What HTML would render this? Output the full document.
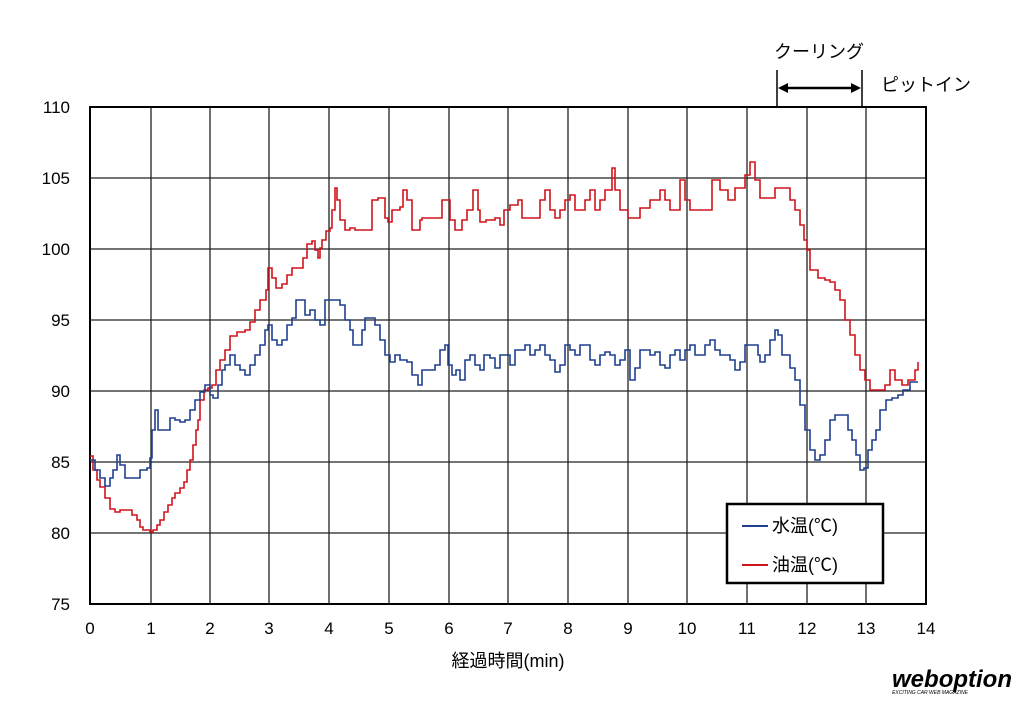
<!DOCTYPE html>
<html><head><meta charset="utf-8"><style>
html,body{margin:0;padding:0;background:#fff;}
svg text{font-family:"Liberation Sans","Noto Sans CJK JP",sans-serif;fill:#000;}
</style></head><body>
<svg width="1024" height="703" viewBox="0 0 1024 703" xmlns="http://www.w3.org/2000/svg">
<g stroke="#222" stroke-width="1.3">
<line x1="151" y1="107" x2="151" y2="604"/><line x1="210" y1="107" x2="210" y2="604"/>
<line x1="269" y1="107" x2="269" y2="604"/><line x1="329" y1="107" x2="329" y2="604"/>
<line x1="389" y1="107" x2="389" y2="604"/><line x1="449" y1="107" x2="449" y2="604"/>
<line x1="508" y1="107" x2="508" y2="604"/><line x1="568" y1="107" x2="568" y2="604"/>
<line x1="628" y1="107" x2="628" y2="604"/><line x1="687" y1="107" x2="687" y2="604"/>
<line x1="747" y1="107" x2="747" y2="604"/><line x1="807" y1="107" x2="807" y2="604"/>
<line x1="866" y1="107" x2="866" y2="604"/>
<line x1="90" y1="178" x2="926" y2="178"/><line x1="90" y1="249" x2="926" y2="249"/>
<line x1="90" y1="320" x2="926" y2="320"/><line x1="90" y1="391" x2="926" y2="391"/>
<line x1="90" y1="462" x2="926" y2="462"/><line x1="90" y1="533" x2="926" y2="533"/>
</g>
<rect x="90" y="107" width="836" height="497" fill="none" stroke="#000" stroke-width="2"/>
<polyline class="st" fill="none" stroke="#d0141c" stroke-width="1.6" points="90,456 93,470 97,480 100,487 105,498 110,509 115,512 120,510 128,510 132,515 137,520 140,527 143,530 150,532 153,530 157,525 160,520 164,512 168,505 172,498 175,493 180,488 184,482 187,470 190,460 193,445 196,430 198,420 200,400 204,390 208,388 212,385 216,370 220,360 225,350 230,336 237,332 245,330 250,322 255,310 260,300 266,290 268,268 272,278 276,288 282,284 287,275 292,268 298,268 303,258 307,244 312,241 315,250 318,258 320,248 322,240 326,231 330,228 332,210 335,188 337,200 340,220 345,230 350,228 355,230 368,230 372,200 378,198 385,218 388,222 392,210 400,207 403,190 407,200 412,230 418,230 420,220 422,218 437,218 442,200 445,200 450,220 455,230 462,220 467,210 473,190 478,210 480,222 486,220 495,218 500,225 504,210 510,205 518,200 522,218 530,218 540,200 545,190 550,210 555,218 560,210 565,200 570,195 575,210 580,210 585,200 590,190 595,210 600,200 605,190 612,168 615,190 620,210 628,218 640,208 650,200 660,190 665,200 670,210 680,180 685,200 690,210 700,210 712,180 720,190 728,200 735,188 745,175 750,162 755,180 760,198 770,198 775,188 785,188 790,200 795,210 800,225 804,240 807,250 810,270 818,278 825,280 830,282 835,290 840,300 845,320 850,335 855,355 860,370 865,380 870,390 880,390 885,385 890,370 895,380 902,385 908,380 915,370 918,362"/>
<polyline class="st" fill="none" stroke="#1f3f8f" stroke-width="1.6" points="90,460 95,470 100,478 105,486 110,478 113,470 117,455 120,465 125,478 130,478 135,478 140,470 147,468 150,458 152,430 155,410 158,430 162,430 167,430 170,418 175,420 180,422 185,420 190,410 195,400 200,392 205,385 210,395 213,398 218,385 222,370 225,365 230,355 235,365 240,370 245,375 250,365 255,355 260,345 265,330 268,325 272,340 277,345 282,340 287,325 292,318 296,300 300,300 305,315 310,310 315,320 320,325 325,300 330,300 335,300 340,305 345,320 350,330 353,345 358,345 362,330 365,318 370,318 375,325 380,340 385,355 390,362 395,355 400,360 407,362 412,375 418,385 422,370 430,370 435,365 440,350 445,345 448,365 452,375 456,370 460,380 465,360 470,355 475,365 480,370 484,355 490,358 495,368 500,355 505,355 510,365 515,350 520,350 525,345 530,355 535,350 540,345 545,355 550,360 555,372 560,365 565,345 570,350 575,355 580,345 585,345 590,360 595,365 600,355 605,352 610,355 615,365 620,360 625,350 630,380 635,368 640,350 645,350 650,355 655,352 660,365 665,368 670,355 675,350 680,360 685,350 690,345 695,355 700,355 705,345 710,340 715,350 720,355 725,355 730,360 735,370 740,362 745,345 752,345 758,355 760,362 765,355 770,340 775,330 778,335 782,355 787,355 790,368 795,380 800,405 805,430 810,450 815,460 820,455 825,440 830,420 835,415 842,415 848,430 852,440 856,455 860,470 864,468 868,450 872,440 876,430 880,410 886,400 892,398 898,395 903,390 910,382 918,382"/>
<g font-size="17" text-anchor="end">
<text x="70" y="113">110</text><text x="70" y="184">105</text><text x="70" y="255">100</text>
<text x="70" y="326">95</text><text x="70" y="397">90</text><text x="70" y="468">85</text>
<text x="70" y="539">80</text><text x="70" y="610">75</text>
</g>
<g font-size="17" text-anchor="middle">
<text x="90" y="634">0</text><text x="151" y="634">1</text><text x="210" y="634">2</text>
<text x="269" y="634">3</text><text x="329" y="634">4</text><text x="389" y="634">5</text>
<text x="449" y="634">6</text><text x="508" y="634">7</text><text x="568" y="634">8</text>
<text x="628" y="634">9</text><text x="687" y="634">10</text><text x="747" y="634">11</text>
<text x="807" y="634">12</text><text x="866" y="634">13</text><text x="926" y="634">14</text>
<text x="508" y="667" font-size="18">経過時間(min)</text>
</g>
<rect x="727" y="504" width="156" height="79" fill="#fff" stroke="#000" stroke-width="2.5"/>
<line x1="742" y1="526" x2="768" y2="526" stroke="#1f3f8f" stroke-width="2"/>
<line x1="742" y1="565" x2="768" y2="565" stroke="#d0141c" stroke-width="2"/>
<text x="772" y="532" font-size="18">水温(℃)</text>
<text x="772" y="571" font-size="18">油温(℃)</text>
<g stroke="#000" stroke-width="1.5">
<line x1="777" y1="70" x2="777" y2="107"/><line x1="862" y1="70" x2="862" y2="107"/>
<line x1="784" y1="88" x2="855" y2="88" stroke-width="2.5"/>
</g>
<polygon points="778,88 788,83 788,93" fill="#000"/>
<polygon points="861,88 851,83 851,93" fill="#000"/>
<text x="774" y="58" font-size="18">クーリング</text>
<text x="881" y="91" font-size="18">ピットイン</text>
<text x="1012" y="687" font-size="24" font-weight="bold" font-style="italic" text-anchor="end" fill="#333">web<tspan fill="#000">option</tspan></text>
<text x="930" y="694" font-size="5" font-style="italic" text-anchor="middle" fill="#333">EXCITING CAR WEB MAGAZINE</text>
</svg>
<script>
document.querySelectorAll('polyline.st').forEach(function(p){
 var pts=p.getAttribute('points').trim().split(/\s+/).map(function(s){return s.split(',').map(Number);});
 var out=[pts[0].join(',')];
 for(var i=1;i<pts.length;i++){out.push(pts[i][0]+','+pts[i-1][1]);out.push(pts[i].join(','));}
 p.setAttribute('points',out.join(' '));
});
</script>
</body></html>
